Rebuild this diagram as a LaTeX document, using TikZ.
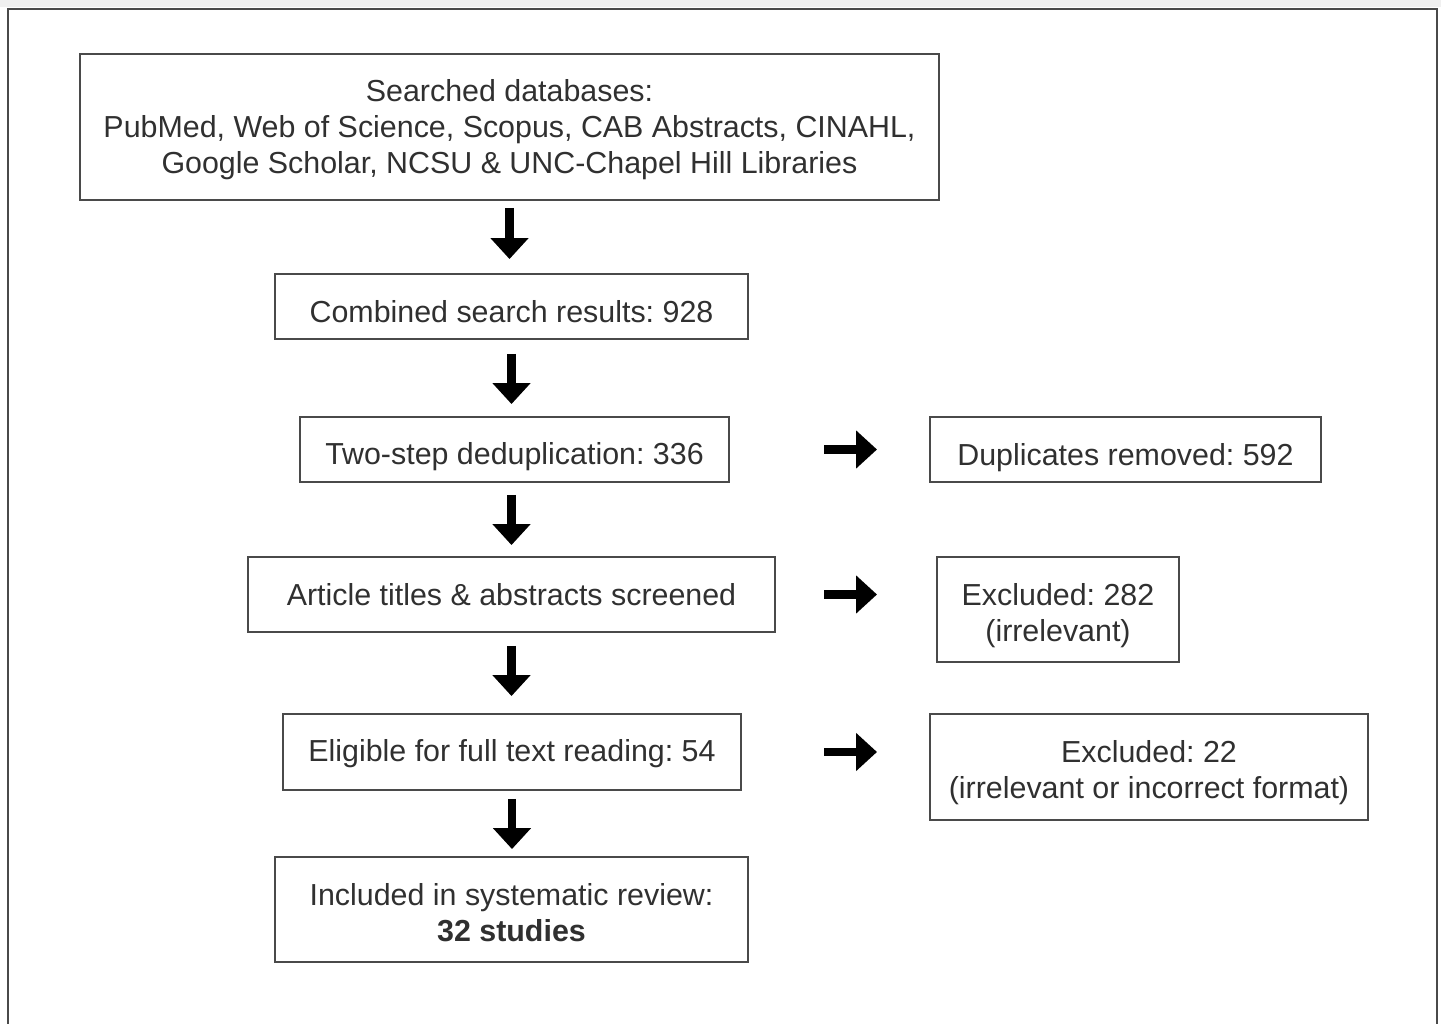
\documentclass[tikz,border=0pt]{standalone}
\usepackage{fontspec}
\setmainfont{Liberation Sans}
\usetikzlibrary{positioning,calc,arrows.meta}
\tikzset{>=stealth}
\definecolor{frame}{HTML}{4A4A4A}
\definecolor{ink}{HTML}{303030}
\newcommand*{\drop}[1]{\rule{0pt}{#1}}
\tikzset{
  box/.style={draw=frame,line width=1.1pt,inner sep=0pt,align=center,
    text=ink,font=\fontsize{17.3}{20.6}\selectfont\frenchspacing},
  blk/.style={draw=black,line width=0.17cm,
    -{Triangle[length=0.42cm,width=0.74cm]}}
}

\begin{document}
\begin{tikzpicture}[x=0.02cm,y=-0.02cm]
\useasboundingbox (0,0) rectangle (1441,1024);
\fill[black!6] (0,0) rectangle (1441,7);
\draw[frame,line width=1.6pt] (8,1024) -- (8,9) -- (1437,9) -- (1437,1024);
\coordinate (colL) at (824,0);
\coordinate (colR) at (877,0);
\node[box,minimum width=17.18cm,minimum height=2.92cm] (search) at (509.5,127)
  {\drop{0.54cm}Searched databases:\\PubMed, Web of Science, Scopus, CAB Abstracts, CINAHL,\\Google Scholar, NCSU \& UNC-Chapel Hill Libraries};
\node[box,minimum width=9.46cm,minimum height=1.3cm] (comb) at (511.5,306.5) {\drop{0.66cm}Combined search results: 928};
\node[box,minimum width=8.58cm,minimum height=1.3cm] (dedup) at (514.5,449.5) {\drop{0.73cm}Two-step deduplication: 336};
\node[box,minimum width=7.82cm,minimum height=1.3cm] (dupl) at (1125.5,449.5) {\drop{0.75cm}Duplicates removed: 592};
\node[box,minimum width=10.54cm,minimum height=1.5cm] (screen) at (511.5,594.5) {Article titles \& abstracts screened};
\node[box,minimum width=4.84cm,minimum height=2.1cm] (excla) at (1058,609.5) {\drop{0.68cm}Excluded: 282\\(irrelevant)};
\node[box,minimum width=9.16cm,minimum height=1.52cm] (elig) at (512,752) {\drop{0.52cm}Eligible for full text reading: 54};
\node[box,minimum width=8.76cm,minimum height=2.12cm] (exclb) at (1149,767) {\drop{0.68cm}Excluded: 22\\(irrelevant or incorrect format)};
\node[box,minimum width=9.46cm,minimum height=2.1cm] (incl) at (511.5,909.5) {\drop{0.58cm}Included in systematic review:\\\textbf{32 studies}};
% down the middle
\draw[blk,shorten <=0.14cm,shorten >=0.28cm] (search.south) -- (search.south |- comb.north);
\draw[blk,shorten <=0.28cm,shorten >=0.24cm] (comb.south) -- (comb.south |- dedup.north);
\draw[blk,shorten <=0.24cm,shorten >=0.22cm] (dedup.south -| comb.south) -- (comb.south |- screen.north);
\draw[blk,shorten <=0.26cm,shorten >=0.34cm] (screen.south) -- (screen.south |- elig.north);
\draw[blk,shorten <=0.16cm,shorten >=0.14cm] (elig.south) -- (elig.south |- incl.north);
% to the side boxes
\draw[blk] (dedup.east -| colL) -- (dedup.east -| colR);
\draw[blk] (screen.east -| colL) -- (screen.east -| colR);
\draw[blk] (elig.east -| colL) -- (elig.east -| colR);
\end{tikzpicture}
\end{document}
